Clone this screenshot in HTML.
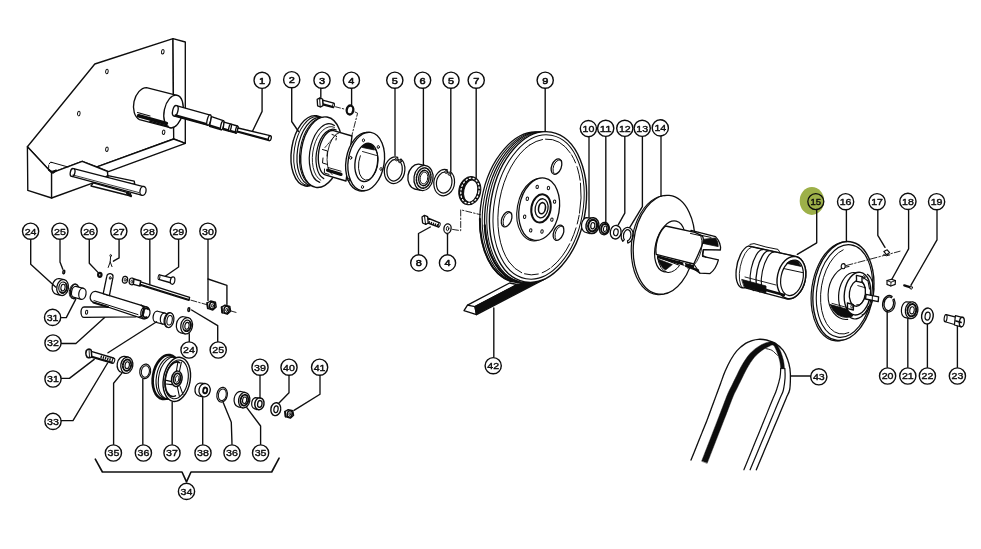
<!DOCTYPE html>
<html><head><meta charset="utf-8"><style>
html,body{margin:0;padding:0;background:#fff;}
svg{display:block}
.t{font-family:"Liberation Sans",sans-serif;fill:#111;}
</style></head><body>
<svg width="981" height="549" viewBox="0 0 981 549" stroke-linecap="round" stroke-linejoin="round" opacity="0.999">
<defs><filter id="soft" x="0" y="0" width="981" height="549" filterUnits="userSpaceOnUse"><feGaussianBlur stdDeviation="0.38"/></filter></defs>
<rect width="981" height="549" fill="#fff"/>
<g filter="url(#soft)">
<path d="M27.4 146.8 L94.8 64 L173 38.7 L173.7 139 L97 166.8 L82.2 161.3 L51.6 172.8 Z" fill="#fff" stroke="#0c0c0c" stroke-width="1.35" />
<path d="M173 38.7 L185.3 42 L185.3 143.3 L173.7 139 Z" fill="#fff" stroke="#0c0c0c" stroke-width="1.35" />
<path d="M173.7 139 L185.3 143.3 L108.5 171.6 L97 166.8 Z" fill="#fff" stroke="#0c0c0c" stroke-width="1.35" />
<path d="M27.4 146.8 L27.8 190.4 L51.6 198 L51.6 172.8 Z" fill="#fff" stroke="#0c0c0c" stroke-width="1.35" />
<path d="M51.6 172.8 L82.2 161.3 L107.3 171.3 L107.9 175.6 L93.2 182.9 L51.6 198 Z" fill="#fff" stroke="#0c0c0c" stroke-width="1.35" />
<path d="M51 162.2 L68 167 M48.6 165.5 Q47.6 169 50.5 171.6 M49 164 Q50 161.6 52 162.4 M50.5 171.6 L56 170.2" fill="none" stroke="#0c0c0c" stroke-width="1" />
<path d="M49 170 L53 172.8 L56 170.5" fill="none" stroke="#0c0c0c" stroke-width="2" />
<path d="M107.9 175.6 L134.2 181.1 L134.8 184.3 L108 179 Z" fill="#fff" stroke="#0c0c0c" stroke-width="1.35" />
<path d="M93.2 182.9 L130.5 193.3 L130.7 196 L91 186 Z" fill="#fff" stroke="#0c0c0c" stroke-width="1.35" />
<path d="M127 193 L131 196" fill="none" stroke="#0c0c0c" stroke-width="2.2" />
<path d="M73.6 168.6 L143.4 186.6 L141.5 195.2 L72 176.3 Z" fill="#fff" stroke="#0c0c0c" stroke-width="1.35" />
<ellipse cx="72.6" cy="172.5" rx="2.3" ry="4" transform="rotate(12 72.6 172.5)" fill="#fff" stroke="#0c0c0c" stroke-width="1.35" />
<ellipse cx="143" cy="190.9" rx="3" ry="4.5" transform="rotate(12 143 190.9)" fill="#fff" stroke="#0c0c0c" stroke-width="1.35" />
<path d="M73 175 L139 192.6" fill="none" stroke="#0c0c0c" stroke-width="0.8" />
<ellipse cx="162.8" cy="51.7" rx="1.3" ry="2.3" transform="rotate(8 162.8 51.7)" fill="none" stroke="#0c0c0c" stroke-width="1" />
<ellipse cx="106.9" cy="71.5" rx="1.3" ry="2.3" transform="rotate(8 106.9 71.5)" fill="none" stroke="#0c0c0c" stroke-width="1" />
<ellipse cx="78.8" cy="113.6" rx="1.3" ry="2.3" transform="rotate(8 78.8 113.6)" fill="none" stroke="#0c0c0c" stroke-width="1" />
<ellipse cx="163.6" cy="132.2" rx="1.3" ry="2.3" transform="rotate(8 163.6 132.2)" fill="none" stroke="#0c0c0c" stroke-width="1" />
<ellipse cx="106.9" cy="149.2" rx="1.3" ry="2.3" transform="rotate(8 106.9 149.2)" fill="none" stroke="#0c0c0c" stroke-width="1" />
<path d="M146.5 87.6 L176 95.2 A9.5 16.6 12 0 1 171 127.8 L139.5 119.6 A11 16.6 12 0 1 146.5 87.6 Z" fill="#fff" stroke="#0c0c0c" stroke-width="1.35" />
<ellipse cx="173.5" cy="111.5" rx="9.3" ry="16.6" transform="rotate(12 173.5 111.5)" fill="#fff" stroke="#0c0c0c" stroke-width="1.35" />
<path d="M138.6 115.8 L166.4 123.4" fill="none" stroke="#0c0c0c" stroke-width="3.6" />
<path d="M137.5 112.5 L150 116" fill="none" stroke="#0c0c0c" stroke-width="1.2" />
<path d="M150 121.3 L168 126.3" fill="none" stroke="#0c0c0c" stroke-width="1.6" />
<path d="M177.2 105.9 L210.3 115.1 L207.5 125.2 L174.4 116 Z" fill="#fff" stroke="#0c0c0c" stroke-width="1.35" />
<ellipse cx="175.3" cy="110.8" rx="2.6" ry="5.4" transform="rotate(14 175.3 110.8)" fill="#fff" stroke="#0c0c0c" stroke-width="1.35" />
<path d="M175.5 115.3 L207.5 124.2" fill="none" stroke="#0c0c0c" stroke-width="2" />
<ellipse cx="209" cy="120.1" rx="1.8" ry="5.3" transform="rotate(14 209 120.1)" fill="#fff" stroke="#0c0c0c" stroke-width="1.35" />
<path d="M211.5 116.6 L223.2 120.6 L221.3 129.8 L209.5 126.3 Z" fill="#fff" stroke="#0c0c0c" stroke-width="1.35" />
<path d="M210 125.4 L221.3 128.8" fill="none" stroke="#0c0c0c" stroke-width="1.8" />
<ellipse cx="222.3" cy="125.2" rx="1.4" ry="4.6" transform="rotate(14 222.3 125.2)" fill="#fff" stroke="#0c0c0c" stroke-width="1.35" />
<path d="M224.1 122.2 L237.4 126 L236.1 133.2 L223 129.5 Z" fill="#fff" stroke="#0c0c0c" stroke-width="1.35" />
<path d="M223.4 128.7 L236 132.3" fill="none" stroke="#0c0c0c" stroke-width="1.8" />
<ellipse cx="230" cy="127.6" rx="1.1" ry="3.6" transform="rotate(14 230 127.6)" fill="#fff" stroke="#0c0c0c" stroke-width="1.35" />
<ellipse cx="236.8" cy="129.6" rx="1.1" ry="3.6" transform="rotate(14 236.8 129.6)" fill="#fff" stroke="#0c0c0c" stroke-width="1.35" />
<path d="M238 128 L270.1 135.7 L269.2 140.6 L237 131.9 Z" fill="#fff" stroke="#0c0c0c" stroke-width="1.35" />
<path d="M237.3 131.3 L269 139.8" fill="none" stroke="#0c0c0c" stroke-width="1.6" />
<ellipse cx="269.8" cy="138.2" rx="1.4" ry="2.5" transform="rotate(14 269.8 138.2)" fill="#fff" stroke="#0c0c0c" stroke-width="1.35" />
<path d="M262.1 88.4 L262.1 111.4 L252.6 131" fill="none" stroke="#0c0c0c" stroke-width="1.35" />
<circle cx="262.1" cy="80.30000000000001" r="8.1" fill="#fff" stroke="#0c0c0c" stroke-width="1.4"/>
<text x="262.1" y="83.70000000000002" text-anchor="middle" font-size="9.6" textLength="6.1" lengthAdjust="spacingAndGlyphs" stroke="#0c0c0c" stroke-width="0.55" class="t">1</text>
<ellipse cx="311" cy="150.9" rx="19.5" ry="35.6" transform="rotate(9 311 150.9)" fill="#fff" stroke="#0c0c0c" stroke-width="1.4" />
<ellipse cx="313.1" cy="151.1" rx="18.8" ry="34.8" transform="rotate(9 313.1 151.1)" fill="none" stroke="#0c0c0c" stroke-width="1.0" />
<ellipse cx="315.9" cy="151.4" rx="18.4" ry="34.4" transform="rotate(9 315.9 151.4)" fill="#fff" stroke="#0c0c0c" stroke-width="1.2" />
<ellipse cx="318" cy="151.7" rx="18" ry="34" transform="rotate(9 318 151.7)" fill="none" stroke="#0c0c0c" stroke-width="1.0" />
<ellipse cx="321.4" cy="152.2" rx="20.2" ry="35.6" transform="rotate(9 321.4 152.2)" fill="#fff" stroke="#0c0c0c" stroke-width="1.4" />
<path d="M319.78 182.4 A16 29.8 9 1 1 334.39 125.52" fill="none" stroke="#0c0c0c" stroke-width="1.2" />
<path d="M320.78 180.24 A15 27.6 9 0 1 334.42 127.36" fill="none" stroke="#0c0c0c" stroke-width="0.9" />
<path d="M323.75 178.64 A13.6 25.4 9 0 1 336.25 129.96" fill="none" stroke="#0c0c0c" stroke-width="1.2" />
<path d="M333.5 130.6 L352 136 L346 181 L326 175.2 A11 22.5 9 0 1 333.5 130.6 Z" fill="#fff" stroke="#0c0c0c" stroke-width="1.35" />
<path d="M332.06 174.65 A9.5 21.5 9 0 1 339.02 132.76" fill="none" stroke="#0c0c0c" stroke-width="0.9" />
<path d="M322.5 149.5 L327.5 151 L327 156" fill="none" stroke="#0c0c0c" stroke-width="1" />
<path d="M323 158 L322.5 163 L327 164.3" fill="none" stroke="#0c0c0c" stroke-width="1" />
<path d="M324.5 169 L324.3 173 L329 174.4" fill="none" stroke="#0c0c0c" stroke-width="1" />
<path d="M332 134.5 L336.5 136 L336 140" fill="none" stroke="#0c0c0c" stroke-width="1" stroke-dasharray="2 1.5"/>
<path d="M325 147.5 L334 137" fill="none" stroke="#0c0c0c" stroke-width="0.9" stroke-dasharray="2.5 1.5"/>
<path d="M327.6 170.2 L341 174.4" fill="none" stroke="#0c0c0c" stroke-width="3.2" />
<path d="M328 167.5 L341 171.2" fill="none" stroke="#0c0c0c" stroke-width="0.9" />
<ellipse cx="364" cy="161.7" rx="18" ry="29.5" transform="rotate(9 364 161.7)" fill="#fff" stroke="#0c0c0c" stroke-width="1.35" />
<ellipse cx="366.2" cy="161.5" rx="18" ry="29.5" transform="rotate(9 366.2 161.5)" fill="#fff" stroke="#0c0c0c" stroke-width="1.35" />
<ellipse cx="366.3" cy="162.4" rx="11.2" ry="19.3" transform="rotate(9 366.3 162.4)" fill="#fff" stroke="#0c0c0c" stroke-width="1.35" />
<path d="M362 146.5 Q368 141 373.5 146 L374.5 150 L362.5 147.5 Z" fill="#0c0c0c" stroke="#0c0c0c" stroke-width="0.8" />
<path d="M375.38 148.95 A9.6 17.3 9 1 1 360.32 155.74" fill="none" stroke="#0c0c0c" stroke-width="1.0" />
<path d="M362.5 151.5 L376.5 155.5" fill="none" stroke="#0c0c0c" stroke-width="0.9" />
<ellipse cx="363.5" cy="140.3" rx="1.1" ry="1.5" transform="rotate(9 363.5 140.3)" fill="none" stroke="#0c0c0c" stroke-width="0.9" />
<ellipse cx="378.3" cy="147" rx="1.1" ry="1.5" transform="rotate(9 378.3 147)" fill="none" stroke="#0c0c0c" stroke-width="0.9" />
<ellipse cx="350.7" cy="157.8" rx="1.1" ry="1.5" transform="rotate(9 350.7 157.8)" fill="none" stroke="#0c0c0c" stroke-width="0.9" />
<ellipse cx="348.8" cy="179.6" rx="1.1" ry="1.5" transform="rotate(9 348.8 179.6)" fill="none" stroke="#0c0c0c" stroke-width="0.9" />
<ellipse cx="362.5" cy="187" rx="1.1" ry="1.5" transform="rotate(9 362.5 187)" fill="none" stroke="#0c0c0c" stroke-width="0.9" />
<ellipse cx="381" cy="169" rx="1.1" ry="1.5" transform="rotate(9 381 169)" fill="none" stroke="#0c0c0c" stroke-width="0.9" />
<path d="M291.7 87.4 L291.7 121.5 L298.5 131.5" fill="none" stroke="#0c0c0c" stroke-width="1.35" />
<circle cx="291.7" cy="79.7" r="8.1" fill="#fff" stroke="#0c0c0c" stroke-width="1.4"/>
<text x="291.7" y="83.10000000000001" text-anchor="middle" font-size="9.6" textLength="6.1" lengthAdjust="spacingAndGlyphs" stroke="#0c0c0c" stroke-width="0.55" class="t">2</text>
<path d="M322.6 100.2 L333.8 103.2 L333.4 107.6 L322.8 104.8 Z" fill="#fff" stroke="#0c0c0c" stroke-width="1.35" />
<ellipse cx="333.6" cy="105.4" rx="0.9" ry="2.1" transform="rotate(9 333.6 105.4)" fill="#fff" stroke="#0c0c0c" stroke-width="1.0" />
<path d="M323 104 L333 106.8" fill="none" stroke="#0c0c0c" stroke-width="1.6" />
<path d="M317.2 99.4 L319.6 98 L322.6 99 L323 105.6 L320.6 107 L317.6 105.8 Z" fill="#fff" stroke="#0c0c0c" stroke-width="1.3" />
<path d="M319.6 98 L320.2 107" fill="none" stroke="#0c0c0c" stroke-width="1.0" />
<ellipse cx="350" cy="110" rx="3.3" ry="4.5" transform="rotate(9 350 110)" fill="#fff" stroke="#0c0c0c" stroke-width="2.3" />
<path d="M335.5 106.8 L345.3 109.3" fill="none" stroke="#0c0c0c" stroke-width="0.9" stroke-dasharray="5 2 1.5 2"/>
<path d="M355 112 L357.6 113.2 L351.6 136.5" fill="none" stroke="#0c0c0c" stroke-width="0.9" stroke-dasharray="6 2 1.5 2"/>
<path d="M320.8 88.2 L320.8 98.8" fill="none" stroke="#0c0c0c" stroke-width="1.35" />
<circle cx="322" cy="80.2" r="8.1" fill="#fff" stroke="#0c0c0c" stroke-width="1.4"/>
<text x="322" y="83.60000000000001" text-anchor="middle" font-size="9.6" textLength="6.1" lengthAdjust="spacingAndGlyphs" stroke="#0c0c0c" stroke-width="0.55" class="t">3</text>
<path d="M351.6 88.2 L351.6 105" fill="none" stroke="#0c0c0c" stroke-width="1.35" />
<circle cx="351.4" cy="80.2" r="8.1" fill="#fff" stroke="#0c0c0c" stroke-width="1.4"/>
<text x="351.4" y="83.60000000000001" text-anchor="middle" font-size="9.6" textLength="6.1" lengthAdjust="spacingAndGlyphs" stroke="#0c0c0c" stroke-width="0.55" class="t">4</text>
<path d="M400.9 159.0 A10.2 13.4 9 1 1 397.74 157.2 L397.06 159.72 A7.6 10.8 9 1 0 399.41 161.13 Z" fill="#fff" stroke="#0c0c0c" stroke-width="1.2" />
<ellipse cx="396.73" cy="159.36" rx="1.5" ry="1.5" transform="rotate(0 396.73 159.36)" fill="#fff" stroke="#0c0c0c" stroke-width="1.0" />
<ellipse cx="396.73" cy="159.36" rx="0.4" ry="0.4" transform="rotate(0 396.73 159.36)" fill="#0c0c0c" stroke="#0c0c0c" stroke-width="0.5" />
<ellipse cx="399.88" cy="161.24" rx="1.5" ry="1.5" transform="rotate(0 399.88 161.24)" fill="#fff" stroke="#0c0c0c" stroke-width="1.0" />
<ellipse cx="399.88" cy="161.24" rx="0.4" ry="0.4" transform="rotate(0 399.88 161.24)" fill="#0c0c0c" stroke="#0c0c0c" stroke-width="0.5" />
<path d="M395 87.8 L395 155.5" fill="none" stroke="#0c0c0c" stroke-width="1.35" />
<circle cx="394.8" cy="80.2" r="8.1" fill="#fff" stroke="#0c0c0c" stroke-width="1.4"/>
<text x="394.8" y="83.60000000000001" text-anchor="middle" font-size="9.6" textLength="6.1" lengthAdjust="spacingAndGlyphs" stroke="#0c0c0c" stroke-width="0.55" class="t">5</text>
<path d="M425.5 165.6 L418.7 164.2 A9.5 12.6 9 0 0 414.7 189 L421.5 190.4 Z" fill="#fff" stroke="#0c0c0c" stroke-width="1.35" />
<ellipse cx="423.5" cy="178" rx="9.5" ry="12.6" transform="rotate(9 423.5 178)" fill="#fff" stroke="#0c0c0c" stroke-width="1.3" />
<ellipse cx="423.7" cy="178" rx="7.2" ry="10.2" transform="rotate(9 423.7 178)" fill="#fff" stroke="#0c0c0c" stroke-width="1.6" stroke-dasharray="1.6 1.3"/>
<ellipse cx="423.9" cy="178" rx="5.2" ry="7.8" transform="rotate(9 423.9 178)" fill="#fff" stroke="#0c0c0c" stroke-width="1.3" />
<ellipse cx="424" cy="178" rx="3.8" ry="6" transform="rotate(9 424 178)" fill="#fff" stroke="#0c0c0c" stroke-width="0.9" />
<path d="M423.4 87.8 L423.4 165.3" fill="none" stroke="#0c0c0c" stroke-width="1.35" />
<circle cx="422.6" cy="80.2" r="8.1" fill="#fff" stroke="#0c0c0c" stroke-width="1.4"/>
<text x="422.6" y="83.60000000000001" text-anchor="middle" font-size="9.6" textLength="6.1" lengthAdjust="spacingAndGlyphs" stroke="#0c0c0c" stroke-width="0.55" class="t">6</text>
<path d="M450.52 171.59 A10.3 13.2 9 1 1 447.32 169.8 L446.64 172.31 A7.700000000000001 10.6 9 1 0 449.02 173.72 Z" fill="#fff" stroke="#0c0c0c" stroke-width="1.2" />
<ellipse cx="446.31" cy="171.95" rx="1.5" ry="1.5" transform="rotate(0 446.31 171.95)" fill="#fff" stroke="#0c0c0c" stroke-width="1.0" />
<ellipse cx="446.31" cy="171.95" rx="0.4" ry="0.4" transform="rotate(0 446.31 171.95)" fill="#0c0c0c" stroke="#0c0c0c" stroke-width="0.5" />
<ellipse cx="449.5" cy="173.82" rx="1.5" ry="1.5" transform="rotate(0 449.5 173.82)" fill="#fff" stroke="#0c0c0c" stroke-width="1.0" />
<ellipse cx="449.5" cy="173.82" rx="0.4" ry="0.4" transform="rotate(0 449.5 173.82)" fill="#0c0c0c" stroke="#0c0c0c" stroke-width="0.5" />
<path d="M450.8 87.8 L450.8 171" fill="none" stroke="#0c0c0c" stroke-width="1.35" />
<circle cx="451" cy="80.2" r="8.1" fill="#fff" stroke="#0c0c0c" stroke-width="1.4"/>
<text x="451" y="83.60000000000001" text-anchor="middle" font-size="9.6" textLength="6.1" lengthAdjust="spacingAndGlyphs" stroke="#0c0c0c" stroke-width="0.55" class="t">5</text>
<ellipse cx="469.8" cy="190.7" rx="10.9" ry="14.2" transform="rotate(12 469.8 190.7)" fill="#0c0c0c" stroke="#0c0c0c" stroke-width="1.0" />
<ellipse cx="470.7" cy="191.1" rx="6.9" ry="11.2" transform="rotate(12 470.7 191.1)" fill="#fff" stroke="#0c0c0c" stroke-width="1.0" />
<ellipse cx="470" cy="190.8" rx="9" ry="12.8" transform="rotate(12 470 190.8)" fill="none" stroke="#fff" stroke-width="1.3" stroke-dasharray="1.3 2.4"/>
<path d="M476.2 87.8 L476.2 177.5" fill="none" stroke="#0c0c0c" stroke-width="1.35" />
<circle cx="476.2" cy="80.2" r="8.1" fill="#fff" stroke="#0c0c0c" stroke-width="1.4"/>
<text x="476.2" y="83.60000000000001" text-anchor="middle" font-size="9.6" textLength="6.1" lengthAdjust="spacingAndGlyphs" stroke="#0c0c0c" stroke-width="0.55" class="t">7</text>
<path d="M464 310.6 L467.5 305.1 L509.6 283 L517.1 284.5 L475 306.6 L476.5 314.6 Z" fill="#fff" stroke="#0c0c0c" stroke-width="1.35" />
<path d="M475 306.6 L517.1 284.5 L545 279 L476.5 314.6 Z" fill="#0c0c0c" stroke="#0c0c0c" stroke-width="1.35" />
<path d="M467.5 305.1 L475 306.6" fill="none" stroke="#0c0c0c" stroke-width="1.1" />
<ellipse cx="528" cy="207.3" rx="47" ry="76" transform="rotate(10 528 207.3)" fill="#fff" stroke="#0c0c0c" stroke-width="1.3" />
<ellipse cx="530.4" cy="207.3" rx="47" ry="76" transform="rotate(10 530.4 207.3)" fill="#fff" stroke="#0c0c0c" stroke-width="1.0" />
<ellipse cx="532.8" cy="207.3" rx="47" ry="76" transform="rotate(10 532.8 207.3)" fill="#fff" stroke="#0c0c0c" stroke-width="1.3" />
<ellipse cx="535" cy="207.3" rx="47" ry="76" transform="rotate(10 535 207.3)" fill="#fff" stroke="#0c0c0c" stroke-width="1.0" />
<path d="M510.82 281.15 A47 76 10 0 1 479.88 218.79" fill="none" stroke="#0c0c0c" stroke-width="2.0" />
<path d="M518.0 281.81 A47 76 10 0 1 484.79 225.23" fill="none" stroke="#0c0c0c" stroke-width="2.2" />
<ellipse cx="538" cy="207" rx="47.4" ry="76" transform="rotate(10 538 207)" fill="#fff" stroke="#0c0c0c" stroke-width="1.4" />
<ellipse cx="538.6" cy="207" rx="44.4" ry="72.8" transform="rotate(10 538.6 207)" fill="none" stroke="#0c0c0c" stroke-width="1.0" />
<path d="M529.72 144.97 A40.6 68.6 10 1 1 509.09 261.98" fill="none" stroke="#0c0c0c" stroke-width="1.0" stroke-dasharray="14 3 30 2 9 4"/>
<path d="M509.09 261.98 A40.6 68.6 10 0 1 529.72 144.97" fill="none" stroke="#0c0c0c" stroke-width="1.0" />
<path d="M538.8 239.94 A20 31.5 10 1 1 549.08 181.64" fill="none" stroke="#0c0c0c" stroke-width="1.1" />
<ellipse cx="539.2" cy="209.2" rx="20" ry="31.5" transform="rotate(10 539.2 209.2)" fill="#fff" stroke="#0c0c0c" stroke-width="1.3" />
<ellipse cx="541" cy="208.4" rx="9.6" ry="14.2" transform="rotate(10 541 208.4)" fill="#fff" stroke="#0c0c0c" stroke-width="2.0" />
<ellipse cx="541.6" cy="208.3" rx="6.4" ry="9.6" transform="rotate(10 541.6 208.3)" fill="#fff" stroke="#0c0c0c" stroke-width="1.3" />
<ellipse cx="542" cy="208.2" rx="3.4" ry="5.6" transform="rotate(10 542 208.2)" fill="#fff" stroke="#0c0c0c" stroke-width="1.6" />
<ellipse cx="551.88" cy="219.63" rx="1.2" ry="1.7" transform="rotate(10 551.88 219.63)" fill="none" stroke="#0c0c0c" stroke-width="1.0" />
<ellipse cx="542.01" cy="231.53" rx="1.2" ry="1.7" transform="rotate(10 542.01 231.53)" fill="none" stroke="#0c0c0c" stroke-width="1.0" />
<ellipse cx="530.73" cy="230.35" rx="1.2" ry="1.7" transform="rotate(10 530.73 230.35)" fill="none" stroke="#0c0c0c" stroke-width="1.0" />
<ellipse cx="524.64" cy="216.78" rx="1.2" ry="1.7" transform="rotate(10 524.64 216.78)" fill="none" stroke="#0c0c0c" stroke-width="1.0" />
<ellipse cx="527.32" cy="198.77" rx="1.2" ry="1.7" transform="rotate(10 527.32 198.77)" fill="none" stroke="#0c0c0c" stroke-width="1.0" />
<ellipse cx="537.19" cy="186.87" rx="1.2" ry="1.7" transform="rotate(10 537.19 186.87)" fill="none" stroke="#0c0c0c" stroke-width="1.0" />
<ellipse cx="548.47" cy="188.05" rx="1.2" ry="1.7" transform="rotate(10 548.47 188.05)" fill="none" stroke="#0c0c0c" stroke-width="1.0" />
<ellipse cx="554.56" cy="201.62" rx="1.2" ry="1.7" transform="rotate(10 554.56 201.62)" fill="none" stroke="#0c0c0c" stroke-width="1.0" />
<ellipse cx="556.5" cy="166.6" rx="4.8" ry="8" transform="rotate(22 556.5 166.6)" fill="#fff" stroke="#0c0c0c" stroke-width="1.3" />
<path d="M553.83 173.06 A4.4 7.6 22 0 1 561.97 160.94" fill="none" stroke="#0c0c0c" stroke-width="1.0" />
<ellipse cx="506.6" cy="219.2" rx="4.8" ry="8" transform="rotate(22 506.6 219.2)" fill="#fff" stroke="#0c0c0c" stroke-width="1.3" />
<path d="M503.93 225.66 A4.4 7.6 22 0 1 512.07 213.54" fill="none" stroke="#0c0c0c" stroke-width="1.0" />
<ellipse cx="558.5" cy="232.8" rx="4.8" ry="8" transform="rotate(22 558.5 232.8)" fill="#fff" stroke="#0c0c0c" stroke-width="1.3" />
<path d="M555.83 239.26 A4.4 7.6 22 0 1 563.97 227.14" fill="none" stroke="#0c0c0c" stroke-width="1.0" />
<path d="M545.2 87.8 L545.2 131.5" fill="none" stroke="#0c0c0c" stroke-width="1.35" />
<circle cx="545.2" cy="80.2" r="8.1" fill="#fff" stroke="#0c0c0c" stroke-width="1.4"/>
<text x="545.2" y="83.60000000000001" text-anchor="middle" font-size="9.6" textLength="6.1" lengthAdjust="spacingAndGlyphs" stroke="#0c0c0c" stroke-width="0.55" class="t">9</text>
<path d="M493.8 308 L493.8 357" fill="none" stroke="#0c0c0c" stroke-width="1.35" />
<circle cx="493.2" cy="365.7" r="8.1" fill="#fff" stroke="#0c0c0c" stroke-width="1.4"/>
<text x="493.2" y="369.05" text-anchor="middle" font-size="9.3" textLength="11.8" lengthAdjust="spacingAndGlyphs" stroke="#0c0c0c" stroke-width="0.4" class="t">42</text>
<path d="M427.6 218 L439.6 222.8 L438.6 227 L426.8 222.6 Z" fill="#fff" stroke="#0c0c0c" stroke-width="1.35" />
<path d="M428.6 222.2 L438.4 225.8" fill="none" stroke="#0c0c0c" stroke-width="2.4" stroke-dasharray="1.3 0.9" stroke-linecap="butt"/>
<ellipse cx="439.2" cy="224.9" rx="0.9" ry="2.1" transform="rotate(17 439.2 224.9)" fill="#fff" stroke="#0c0c0c" stroke-width="1.0" />
<path d="M422 217 L424.4 215.4 L427.6 216.6 L428.2 223 L425.8 224.4 L422.6 223 Z" fill="#fff" stroke="#0c0c0c" stroke-width="1.3" />
<path d="M424.4 215.4 L425.6 224.4" fill="none" stroke="#0c0c0c" stroke-width="1.0" />
<ellipse cx="447.5" cy="228.6" rx="3.6" ry="4.8" transform="rotate(9 447.5 228.6)" fill="#fff" stroke="#0c0c0c" stroke-width="1.3" />
<ellipse cx="447.6" cy="228.6" rx="1.2" ry="2.2" transform="rotate(9 447.6 228.6)" fill="#fff" stroke="#0c0c0c" stroke-width="0.9" />
<path d="M452.5 229.4 L460.7 230.7 L460.7 209.8 L480.5 214.7" fill="none" stroke="#0c0c0c" stroke-width="0.9" stroke-dasharray="6 2 1.5 2"/>
<path d="M418.5 254.3 L418.5 233.5 L430.3 227" fill="none" stroke="#0c0c0c" stroke-width="1.35" />
<circle cx="418.8" cy="262.9" r="8.1" fill="#fff" stroke="#0c0c0c" stroke-width="1.4"/>
<text x="418.8" y="266.29999999999995" text-anchor="middle" font-size="9.6" textLength="6.1" lengthAdjust="spacingAndGlyphs" stroke="#0c0c0c" stroke-width="0.55" class="t">8</text>
<path d="M447.5 234.3 L447.5 254.3" fill="none" stroke="#0c0c0c" stroke-width="1.35" />
<circle cx="447.5" cy="262.9" r="8.1" fill="#fff" stroke="#0c0c0c" stroke-width="1.4"/>
<text x="447.5" y="266.29999999999995" text-anchor="middle" font-size="9.6" textLength="6.1" lengthAdjust="spacingAndGlyphs" stroke="#0c0c0c" stroke-width="0.55" class="t">4</text>
<path d="M586 217.6 L592 218.2 L590 233.6 L584.6 232 A6.5 8 9 0 1 586 217.6 Z" fill="#fff" stroke="#0c0c0c" stroke-width="1.2" />
<ellipse cx="592.4" cy="225.6" rx="6.4" ry="8" transform="rotate(9 592.4 225.6)" fill="#fff" stroke="#0c0c0c" stroke-width="1.5" />
<ellipse cx="592.6" cy="225.6" rx="4.4" ry="5.8" transform="rotate(9 592.6 225.6)" fill="#fff" stroke="#0c0c0c" stroke-width="2.2" stroke-dasharray="1.6 1.2"/>
<ellipse cx="592.8" cy="225.7" rx="2" ry="3.2" transform="rotate(9 592.8 225.7)" fill="#fff" stroke="#0c0c0c" stroke-width="1.2" />
<path d="M589 136 L589 217" fill="none" stroke="#0c0c0c" stroke-width="1.35" />
<circle cx="588.4" cy="128.6" r="8.1" fill="#fff" stroke="#0c0c0c" stroke-width="1.4"/>
<text x="588.4" y="131.95" text-anchor="middle" font-size="9.3" textLength="11.8" lengthAdjust="spacingAndGlyphs" stroke="#0c0c0c" stroke-width="0.4" class="t">10</text>
<ellipse cx="604.3" cy="228.6" rx="5" ry="6.2" transform="rotate(9 604.3 228.6)" fill="#fff" stroke="#0c0c0c" stroke-width="1.3" />
<ellipse cx="604.8" cy="228.7" rx="3.6" ry="4.8" transform="rotate(9 604.8 228.7)" fill="#fff" stroke="#0c0c0c" stroke-width="2.0" />
<ellipse cx="605.1" cy="228.8" rx="1.6" ry="2.8" transform="rotate(9 605.1 228.8)" fill="#fff" stroke="#0c0c0c" stroke-width="1.0" />
<path d="M605.8 136 L605.8 222.4" fill="none" stroke="#0c0c0c" stroke-width="1.35" />
<circle cx="605.7" cy="128.3" r="8.1" fill="#fff" stroke="#0c0c0c" stroke-width="1.4"/>
<text x="605.7" y="131.65" text-anchor="middle" font-size="9.3" textLength="11.8" lengthAdjust="spacingAndGlyphs" stroke="#0c0c0c" stroke-width="0.4" class="t">11</text>
<ellipse cx="615.7" cy="232.2" rx="5.4" ry="6.8" transform="rotate(9 615.7 232.2)" fill="#fff" stroke="#0c0c0c" stroke-width="1.3" />
<ellipse cx="615.9" cy="232.3" rx="2.3" ry="3.5" transform="rotate(9 615.9 232.3)" fill="#fff" stroke="#0c0c0c" stroke-width="1.1" />
<path d="M624.8 136 L624.8 213.1 L618.2 224.8" fill="none" stroke="#0c0c0c" stroke-width="1.35" />
<circle cx="624.8" cy="128.3" r="8.1" fill="#fff" stroke="#0c0c0c" stroke-width="1.4"/>
<text x="624.8" y="131.65" text-anchor="middle" font-size="9.3" textLength="11.8" lengthAdjust="spacingAndGlyphs" stroke="#0c0c0c" stroke-width="0.4" class="t">12</text>
<path d="M622.78 241.33 A6 8 9 1 1 627.84 243.2 L627.48 240.93 A3.7 5.7 9 1 0 624.37 239.68 Z" fill="#fff" stroke="#0c0c0c" stroke-width="1.2" />
<path d="M642.4 136 L642.4 206.6 L629.8 227.3" fill="none" stroke="#0c0c0c" stroke-width="1.35" />
<circle cx="642.2" cy="128.3" r="8.1" fill="#fff" stroke="#0c0c0c" stroke-width="1.4"/>
<text x="642.2" y="131.65" text-anchor="middle" font-size="9.3" textLength="11.8" lengthAdjust="spacingAndGlyphs" stroke="#0c0c0c" stroke-width="0.4" class="t">13</text>
<path d="M672.68 289.51 A30.5 49.6 6 1 1 681.66 204.07" fill="none" stroke="#0c0c0c" stroke-width="1.2" />
<ellipse cx="664" cy="244.8" rx="30.5" ry="49.6" transform="rotate(6 664 244.8)" fill="#fff" stroke="#0c0c0c" stroke-width="1.3" />
<ellipse cx="670" cy="246.4" rx="14.5" ry="26" transform="rotate(14 670 246.4)" fill="#fff" stroke="#0c0c0c" stroke-width="1.2" />
<path d="M657.4 256 Q659 270.5 668 272.6 Q675 272 679.6 265.4 L662 258.6 Z" fill="#fff" stroke="#0c0c0c" stroke-width="1.0" />
<path d="M657.6 258 Q660 267 665.6 270 L672.4 264.6 L658 259 Z" fill="#0c0c0c" stroke="#0c0c0c" stroke-width="0.6" />
<path d="M691 230.4 L715.5 236.6 Q721.4 243 720.4 250 L703.4 249.6 L702.6 256.4 L718.4 259.8 Q716 269 710 273.6 L700 273.2 L690 266 Z" fill="#fff" stroke="#0c0c0c" stroke-width="1.3" />
<path d="M702.6 239.4 L715.4 238 Q718.6 242 718.2 246.6 L703 243.4 Z" fill="#0c0c0c" stroke="#0c0c0c" stroke-width="0.8" />
<path d="M692 233.4 L711 237.4" fill="none" stroke="#0c0c0c" stroke-width="1.0" />
<path d="M703.4 249.6 L702.4 255.2 L706 257.2" fill="none" stroke="#0c0c0c" stroke-width="1.2" />
<path d="M665.6 226 L695 232.4 L702.6 236.2 Q704.4 240 701.6 246.4 Q698 255 693.8 264 L656.2 254.4 A11.5 21 14 0 1 665.6 226 Z" fill="#fff" stroke="#0c0c0c" stroke-width="1.35" />
<path d="M690.4 233.4 L702.6 236.2" fill="none" stroke="#0c0c0c" stroke-width="1.0" />
<path d="M700.84 236.08 A10.6 19.6 14 0 1 687.72 268.17" fill="none" stroke="#0c0c0c" stroke-width="0.9" />
<path d="M657.4 256.6 L694 267" fill="none" stroke="#0c0c0c" stroke-width="3.0" stroke-linecap="butt"/>
<path d="M686 265.8 L698 270.4" fill="none" stroke="#0c0c0c" stroke-width="2.4" />
<path d="M693.8 264 L700 273.2" fill="none" stroke="#0c0c0c" stroke-width="1.1" />
<path d="M684 263.4 L684.6 264.8" fill="none" stroke="#fff" stroke-width="1.6" />
<path d="M661 136 L661 196.2" fill="none" stroke="#0c0c0c" stroke-width="1.35" />
<circle cx="660.3" cy="127.9" r="8.1" fill="#fff" stroke="#0c0c0c" stroke-width="1.4"/>
<text x="660.3" y="131.25" text-anchor="middle" font-size="9.3" textLength="11.8" lengthAdjust="spacingAndGlyphs" stroke="#0c0c0c" stroke-width="0.4" class="t">14</text>
<ellipse cx="811.9" cy="200.9" rx="12.2" ry="14" fill="#9db048"/>
<path d="M748.4 246 L796 256.4 A14 21.4 12 0 1 786.6 298.8 L744.4 287.6 A9.4 21 12 0 1 748.4 246 Z" fill="#fff" stroke="#0c0c0c" stroke-width="1.3" />
<ellipse cx="791.4" cy="277.6" rx="14" ry="21.4" transform="rotate(12 791.4 277.6)" fill="#fff" stroke="#0c0c0c" stroke-width="1.4" />
<ellipse cx="792" cy="277.8" rx="11" ry="18" transform="rotate(12 792 277.8)" fill="#fff" stroke="#0c0c0c" stroke-width="1.2" />
<path d="M787.5 262.5 Q792 258.8 798 261.6 L801 266.4 L787 263.4 Z" fill="#0c0c0c" stroke="#0c0c0c" stroke-width="0.8" />
<path d="M784 268.6 L802.6 272.6" fill="none" stroke="#0c0c0c" stroke-width="1.0" />
<path d="M753.98 290.67 A7.6 21 12 0 1 762.7 249.62" fill="none" stroke="#0c0c0c" stroke-width="1.1" />
<path d="M759.98 291.97 A7.6 21 12 0 1 768.7 250.92" fill="none" stroke="#0c0c0c" stroke-width="1.3" />
<path d="M765.18 293.17 A7.6 21 12 0 1 773.9 252.12" fill="none" stroke="#0c0c0c" stroke-width="1.1" />
<path d="M742.54 287.84 A8 21 12 0 1 751.14 247.38" fill="none" stroke="#0c0c0c" stroke-width="0.9" />
<path d="M750 244.4 L754 243.6 L766 247 L778 249.4 L780 252.6" fill="none" stroke="#0c0c0c" stroke-width="1.0" />
<path d="M753 247 L793 255.8" fill="none" stroke="#0c0c0c" stroke-width="0.9" />
<path d="M742 279.5 L766 286 L766 292.6 L744.6 287.4 Z" fill="#0c0c0c" stroke="#0c0c0c" stroke-width="0.8" />
<path d="M766 290 L784 295" fill="none" stroke="#0c0c0c" stroke-width="2.4" />
<path d="M745 277 L776 285" fill="none" stroke="#0c0c0c" stroke-width="0.9" />
<path d="M816.7 209.5 L816.7 242.8 L797.3 254.3" fill="none" stroke="#0c0c0c" stroke-width="1.35" />
<circle cx="815.8" cy="201.6" r="8" fill="none" stroke="#0c0c0c" stroke-width="1.3"/>
<text x="815.7" y="204.9" text-anchor="middle" font-size="8.6" textLength="10.6" lengthAdjust="spacingAndGlyphs" stroke="#0c0c0c" stroke-width="0.4" class="t">15</text>
<path d="M850.45 336.2 A30 49.8 8 1 1 862.46 250.78" fill="none" stroke="#0c0c0c" stroke-width="1.2" />
<ellipse cx="843.4" cy="291" rx="30" ry="49.8" transform="rotate(8 843.4 291)" fill="#fff" stroke="#0c0c0c" stroke-width="1.4" />
<ellipse cx="844.4" cy="291" rx="27.6" ry="46.6" transform="rotate(8 844.4 291)" fill="none" stroke="#0c0c0c" stroke-width="1.1" />
<path d="M848.82 332.59 A25 43.2 8 0 1 843.18 249.81" fill="none" stroke="#0c0c0c" stroke-width="1.0" />
<path d="M847.72 319.41 A19.6 26.6 8 1 1 848.96 266.54" fill="none" stroke="#0c0c0c" stroke-width="1.1" />
<path d="M830.3 304.6 L852.8 310.8 L852.4 316.2 C844 319.5 834 316 830.3 304.6 Z" fill="#0c0c0c" stroke="#0c0c0c" stroke-width="0.8" />
<path d="M832 303.4 L851 308.6" fill="none" stroke="#0c0c0c" stroke-width="0.9" />
<path d="M859.38 309.11 A12.8 21.6 8 1 1 860.54 276.37" fill="none" stroke="#0c0c0c" stroke-width="1.2" />
<path d="M867.32 274.24 A13.2 21.8 8 0 1 862.02 315.11" fill="none" stroke="#0c0c0c" stroke-width="1.1" />
<ellipse cx="857.4" cy="293.6" rx="13" ry="21.5" transform="rotate(8 857.4 293.6)" fill="#fff" stroke="#0c0c0c" stroke-width="1.35" />
<ellipse cx="857.4" cy="293.3" rx="8" ry="13" transform="rotate(8 857.4 293.3)" fill="#fff" stroke="#0c0c0c" stroke-width="1.3" />
<path d="M859.94 281.98 A6.6 11.6 8 1 1 856.72 304.86" fill="none" stroke="#0c0c0c" stroke-width="0.9" />
<path d="M857.8 285.6 L865.6 287.8" fill="none" stroke="#0c0c0c" stroke-width="0.9" />
<path d="M856.4 275.4 L862 276.6 L862 282.4 L856.6 281.4 Z" fill="#fff" stroke="#0c0c0c" stroke-width="1.35" />
<path d="M847.4 303 L853.4 304.6 L853.4 310 L847.6 308.6 Z" fill="#fff" stroke="#0c0c0c" stroke-width="1.35" />
<path d="M862 276.6 L868 281 L869.5 289" fill="none" stroke="#0c0c0c" stroke-width="1.1" />
<ellipse cx="863.8" cy="277.2" rx="1.2" ry="1.6" transform="rotate(0 863.8 277.2)" fill="none" stroke="#0c0c0c" stroke-width="0.9" />
<ellipse cx="852" cy="306.6" rx="1.2" ry="1.6" transform="rotate(0 852 306.6)" fill="none" stroke="#0c0c0c" stroke-width="0.9" />
<path d="M868.52 306.22 A13.5 22 8 0 1 847.66 314.93" fill="none" stroke="#0c0c0c" stroke-width="1.1" />
<path d="M866 294.4 L878.6 296.8 L878.2 301.6 L865.6 299 Z" fill="#fff" stroke="#0c0c0c" stroke-width="1.35" />
<path d="M872.4 295.8 L872.2 300.4" fill="none" stroke="#0c0c0c" stroke-width="1" />
<ellipse cx="843.2" cy="266.2" rx="2" ry="2.6" transform="rotate(8 843.2 266.2)" fill="#fff" stroke="#0c0c0c" stroke-width="1.1" />
<path d="M846 265.6 L900 251.2" fill="none" stroke="#0c0c0c" stroke-width="0.9" stroke-dasharray="7 2 1.5 2"/>
<path d="M846.4 209.9 L846.4 241.5" fill="none" stroke="#0c0c0c" stroke-width="1.35" />
<circle cx="845.6" cy="201.70000000000002" r="8.1" fill="#fff" stroke="#0c0c0c" stroke-width="1.4"/>
<text x="845.6" y="205.05" text-anchor="middle" font-size="9.3" textLength="11.8" lengthAdjust="spacingAndGlyphs" stroke="#0c0c0c" stroke-width="0.4" class="t">16</text>
<path d="M883.8 251.4 L887.2 249.8 L889.6 252.6 L886.4 254.6 Z" fill="#fff" stroke="#0c0c0c" stroke-width="1.1" />
<path d="M883.6 254.6 Q886 257 889.8 255" fill="none" stroke="#0c0c0c" stroke-width="1.0" />
<path d="M877.8 210 L877.8 235.3 L885 247.4" fill="none" stroke="#0c0c0c" stroke-width="1.35" />
<circle cx="877.1" cy="201.70000000000002" r="8.1" fill="#fff" stroke="#0c0c0c" stroke-width="1.4"/>
<text x="877.1" y="205.05" text-anchor="middle" font-size="9.3" textLength="11.8" lengthAdjust="spacingAndGlyphs" stroke="#0c0c0c" stroke-width="0.4" class="t">17</text>
<path d="M887 280.6 L891.4 279.2 L895.4 280.6 L895.2 284.4 L890.8 286 L887 284.4 Z" fill="#fff" stroke="#0c0c0c" stroke-width="1.2" />
<path d="M887 280.6 L891 282.2 L895.4 280.6" fill="none" stroke="#0c0c0c" stroke-width="0.9" />
<path d="M891 282.2 L890.8 286" fill="none" stroke="#0c0c0c" stroke-width="0.9" />
<path d="M908.6 209.9 L908.6 248.9 L892 279" fill="none" stroke="#0c0c0c" stroke-width="1.35" />
<circle cx="907.9" cy="201.4" r="8.1" fill="#fff" stroke="#0c0c0c" stroke-width="1.4"/>
<text x="907.9" y="204.75" text-anchor="middle" font-size="9.3" textLength="11.8" lengthAdjust="spacingAndGlyphs" stroke="#0c0c0c" stroke-width="0.4" class="t">18</text>
<path d="M904.2 285.4 L910.6 287.4" fill="none" stroke="#0c0c0c" stroke-width="2.2" />
<ellipse cx="911.2" cy="287.6" rx="1.2" ry="1.6" transform="rotate(0 911.2 287.6)" fill="#fff" stroke="#0c0c0c" stroke-width="1.0" />
<path d="M937 209.9 L937 239.9 L911 285.2" fill="none" stroke="#0c0c0c" stroke-width="1.35" />
<circle cx="936.6" cy="201.70000000000002" r="8.1" fill="#fff" stroke="#0c0c0c" stroke-width="1.4"/>
<text x="936.6" y="205.05" text-anchor="middle" font-size="9.3" textLength="11.8" lengthAdjust="spacingAndGlyphs" stroke="#0c0c0c" stroke-width="0.4" class="t">19</text>
<path d="M894.14 298.94 A6.2 8.3 8 1 1 892.17 296.5 L891.42 297.8 A4.7 6.800000000000001 8 1 0 892.89 299.78 Z" fill="#fff" stroke="#0c0c0c" stroke-width="1.2" />
<path d="M887.2 311.6 L887.2 367.2" fill="none" stroke="#0c0c0c" stroke-width="1.35" />
<circle cx="887.6" cy="376.0" r="8.1" fill="#fff" stroke="#0c0c0c" stroke-width="1.4"/>
<text x="887.6" y="379.35" text-anchor="middle" font-size="9.3" textLength="11.8" lengthAdjust="spacingAndGlyphs" stroke="#0c0c0c" stroke-width="0.4" class="t">20</text>
<path d="M906 301.8 L911 302.2 L909.6 318.6 L904.6 317.4 A6 8.4 8 0 1 906 301.8 Z" fill="#fff" stroke="#0c0c0c" stroke-width="1.2" />
<ellipse cx="911.6" cy="310.2" rx="6.2" ry="8.4" transform="rotate(8 911.6 310.2)" fill="#fff" stroke="#0c0c0c" stroke-width="1.3" />
<ellipse cx="911.8" cy="310.2" rx="4.3" ry="6.2" transform="rotate(8 911.8 310.2)" fill="#fff" stroke="#0c0c0c" stroke-width="2" stroke-dasharray="1.6 1.4"/>
<ellipse cx="912" cy="310.3" rx="2.2" ry="3.6" transform="rotate(8 912 310.3)" fill="#fff" stroke="#0c0c0c" stroke-width="1.1" />
<path d="M907.8 318.6 L907.8 367.2" fill="none" stroke="#0c0c0c" stroke-width="1.35" />
<circle cx="907.8" cy="376.0" r="8.1" fill="#fff" stroke="#0c0c0c" stroke-width="1.4"/>
<text x="907.8" y="379.35" text-anchor="middle" font-size="9.3" textLength="11.8" lengthAdjust="spacingAndGlyphs" stroke="#0c0c0c" stroke-width="0.4" class="t">21</text>
<ellipse cx="927.4" cy="316" rx="5.8" ry="8" transform="rotate(8 927.4 316)" fill="#fff" stroke="#0c0c0c" stroke-width="1.4" />
<ellipse cx="927.6" cy="316.1" rx="2.5" ry="4" transform="rotate(8 927.6 316.1)" fill="#fff" stroke="#0c0c0c" stroke-width="1.2" />
<path d="M927.4 324.4 L927.4 367.2" fill="none" stroke="#0c0c0c" stroke-width="1.35" />
<circle cx="927.4" cy="376.0" r="8.1" fill="#fff" stroke="#0c0c0c" stroke-width="1.4"/>
<text x="927.4" y="379.35" text-anchor="middle" font-size="9.3" textLength="11.8" lengthAdjust="spacingAndGlyphs" stroke="#0c0c0c" stroke-width="0.4" class="t">22</text>
<path d="M946 314.6 L956 317.2 L955.2 324.8 L945.2 321.8 Z" fill="#fff" stroke="#0c0c0c" stroke-width="1.2" />
<ellipse cx="945.6" cy="318.2" rx="1.4" ry="3.6" transform="rotate(8 945.6 318.2)" fill="#fff" stroke="#0c0c0c" stroke-width="1.1" />
<path d="M955.4 315.6 L962 317.4 L961.2 326.8 L954.4 325 Z" fill="#fff" stroke="#0c0c0c" stroke-width="1.2" />
<ellipse cx="961.8" cy="322" rx="2.4" ry="4.8" transform="rotate(8 961.8 322)" fill="#fff" stroke="#0c0c0c" stroke-width="1.3" />
<path d="M956 321 L961 322.4" fill="none" stroke="#0c0c0c" stroke-width="1.8" />
<path d="M957.4 326.4 L957.4 367.2" fill="none" stroke="#0c0c0c" stroke-width="1.35" />
<circle cx="957.4" cy="376.0" r="8.1" fill="#fff" stroke="#0c0c0c" stroke-width="1.4"/>
<text x="957.4" y="379.35" text-anchor="middle" font-size="9.3" textLength="11.8" lengthAdjust="spacingAndGlyphs" stroke="#0c0c0c" stroke-width="0.4" class="t">23</text>
<path d="M691 460.1 C691.89 457.87 694.58 451.19 696.37 446.73 C698.16 442.28 699.94 437.82 701.73 433.37 C703.52 428.92 705.46 424.26 707.1 420 C708.75 415.74 710.10 411.87 711.6 407.8 C713.10 403.73 714.60 399.67 716.1 395.6 C717.60 391.53 719.12 387.40 720.6 383.4 C722.08 379.40 723.33 375.50 725 371.6 C726.67 367.70 728.60 363.50 730.6 360 C732.60 356.50 734.50 353.37 737 350.6 C739.50 347.83 743.10 345.07 745.6 343.4 C748.10 341.73 749.87 341.28 752 340.6 C754.13 339.92 756.00 339.40 758.4 339.3 C760.80 339.20 763.53 339.28 766.4 340 C769.27 340.72 772.83 341.90 775.6 343.6 C778.37 345.30 781.00 347.57 783 350.2 C785.00 352.83 786.43 356.25 787.6 359.4 C788.77 362.55 789.53 365.72 790 369.1 C790.47 372.48 790.47 376.22 790.4 379.7 C790.33 383.18 790.30 386.92 789.6 390 C788.90 393.08 787.76 394.45 786.2 398.2 C784.64 401.95 782.21 407.75 780.22 412.52 C778.23 417.29 776.23 422.07 774.24 426.84 C772.25 431.61 770.25 436.39 768.26 441.16 C766.27 445.93 764.27 450.71 762.28 455.48 C760.29 460.25 757.30 467.41 756.3 469.8" fill="none" stroke="#0c0c0c" stroke-width="1.3" />
<path d="M707.3 463.09 C708.20 460.76 710.92 453.76 712.73 449.09 C714.54 444.42 716.36 439.76 718.17 435.09 C719.98 430.42 721.89 425.50 723.6 421.09 C725.31 416.68 726.82 412.78 728.43 408.63 C730.04 404.48 731.84 399.52 733.26 396.18 C734.68 392.84 735.74 391.13 736.98 388.61 C738.22 386.09 739.01 384.43 740.69 381.03 C742.38 377.63 744.81 372.16 747.09 368.21 C749.37 364.25 751.91 360.26 754.39 357.3 C756.87 354.34 759.45 352.31 761.95 350.46 C764.45 348.61 767.46 347.05 769.39 346.22 C771.32 345.39 772.30 344.54 773.56 345.5 C774.82 346.46 775.92 349.39 776.95 352.01 C777.98 354.63 779.12 358.46 779.75 361.23 C780.38 364.00 780.56 367.41 780.72 368.65 L784.48 368.15 C784.31 366.85 784.16 363.30 783.45 360.37 C782.75 357.44 781.59 353.50 780.25 350.59 C778.91 347.68 777.45 344.30 775.44 342.9 C773.43 341.50 770.94 341.64 768.21 342.18 C765.48 342.72 762.08 344.25 759.05 346.14 C756.02 348.03 752.87 350.32 750.01 353.5 C747.15 356.68 744.36 361.05 741.91 365.19 C739.46 369.33 737.04 374.88 735.31 378.37 C733.58 381.86 732.78 383.53 731.52 386.1 C730.26 388.68 729.18 390.44 727.74 393.82 C726.30 397.20 724.49 402.19 722.87 406.37 C721.25 410.55 719.72 414.49 718.0 418.91 C716.28 423.33 714.38 428.24 712.57 432.91 C710.76 437.58 708.94 442.24 707.13 446.91 C705.32 451.58 702.61 458.58 701.7 460.91 Z" fill="#0c0c0c" stroke="#0c0c0c" stroke-width="0.4" />
<path d="M780.7 368.5 C780.58 369.97 780.70 373.72 780 377.3 C779.30 380.88 777.63 386.55 776.5 390 C775.37 393.45 774.73 394.27 773.2 398 C771.67 401.73 769.29 407.57 767.34 412.36 C765.39 417.15 763.43 421.93 761.48 426.72 C759.53 431.51 757.57 436.29 755.62 441.08 C753.67 445.87 751.71 450.65 749.76 455.44 C747.81 460.23 744.88 467.41 743.9 469.8" fill="none" stroke="#0c0c0c" stroke-width="1.2" />
<path d="M784.8 368.5 C784.85 369.97 785.33 373.72 785.1 377.3 C784.87 380.88 784.23 386.55 783.4 390 C782.57 393.45 781.65 394.27 780.1 398 C778.55 401.73 776.10 407.57 774.1 412.36 C772.10 417.15 770.10 421.93 768.1 426.72 C766.10 431.51 764.10 436.29 762.1 441.08 C760.10 445.87 758.10 450.65 756.1 455.44 C754.10 460.23 751.10 467.41 750.1 469.8" fill="none" stroke="#0c0c0c" stroke-width="1.2" />
<path d="M780.7 368.6 L784.8 368.6" fill="none" stroke="#0c0c0c" stroke-width="1.0" />
<path d="M766 348.6 C767.00 348.90 770.10 349.27 772 350.4 C773.90 351.53 776.50 354.57 777.4 355.4" fill="none" stroke="#0c0c0c" stroke-width="0.9" />
<path d="M790.6 376 L810.5 376" fill="none" stroke="#0c0c0c" stroke-width="1.35" />
<circle cx="818.8" cy="376.79999999999995" r="8.1" fill="#fff" stroke="#0c0c0c" stroke-width="1.4"/>
<text x="818.8" y="380.15" text-anchor="middle" font-size="9.3" textLength="11.8" lengthAdjust="spacingAndGlyphs" stroke="#0c0c0c" stroke-width="0.4" class="t">43</text>
<path d="M63.99 279.72 L59.39 278.708 A5.8 8 10 0 0 56.61 294.468 L61.21 295.48 Z" fill="#fff" stroke="#0c0c0c" stroke-width="1.25" />
<ellipse cx="62.6" cy="287.6" rx="5.8" ry="8" transform="rotate(10 62.6 287.6)" fill="#fff" stroke="#0c0c0c" stroke-width="1.3" />
<ellipse cx="62.800000000000004" cy="287.6" rx="3.944" ry="5.6" transform="rotate(10 62.800000000000004 287.6)" fill="#fff" stroke="#0c0c0c" stroke-width="1.2" />
<ellipse cx="63.0" cy="287.6" rx="2.088" ry="3.36" transform="rotate(10 63.0 287.6)" fill="#fff" stroke="#0c0c0c" stroke-width="1.1" />
<path d="M65.86 283.66 A3.4 5.2 10 0 1 60.94 291.94" fill="none" stroke="#0c0c0c" stroke-width="1.6" />
<path d="M30.7 239.8 L30.7 264.2 L55.6 287" fill="none" stroke="#0c0c0c" stroke-width="1.35" />
<circle cx="30.6" cy="231.20000000000002" r="8.1" fill="#fff" stroke="#0c0c0c" stroke-width="1.4"/>
<text x="30.6" y="234.55" text-anchor="middle" font-size="9.3" textLength="11.8" lengthAdjust="spacingAndGlyphs" stroke="#0c0c0c" stroke-width="0.4" class="t">24</text>
<ellipse cx="63.8" cy="272" rx="0.9" ry="1.8" transform="rotate(10 63.8 272)" fill="#fff" stroke="#0c0c0c" stroke-width="1.5" />
<path d="M60 239.8 L60 262 L62.8 269.2" fill="none" stroke="#0c0c0c" stroke-width="1.35" />
<circle cx="59.9" cy="231.20000000000002" r="8.1" fill="#fff" stroke="#0c0c0c" stroke-width="1.4"/>
<text x="59.9" y="234.55" text-anchor="middle" font-size="9.3" textLength="11.8" lengthAdjust="spacingAndGlyphs" stroke="#0c0c0c" stroke-width="0.4" class="t">25</text>
<ellipse cx="99.8" cy="274.8" rx="1.7" ry="2.0" transform="rotate(0 99.8 274.8)" fill="#fff" stroke="#0c0c0c" stroke-width="2.2" />
<path d="M89.3 239.8 L89.3 263.2 L98 272.4" fill="none" stroke="#0c0c0c" stroke-width="1.35" />
<circle cx="89.1" cy="231.20000000000002" r="8.1" fill="#fff" stroke="#0c0c0c" stroke-width="1.4"/>
<text x="89.1" y="234.55" text-anchor="middle" font-size="9.3" textLength="11.8" lengthAdjust="spacingAndGlyphs" stroke="#0c0c0c" stroke-width="0.4" class="t">26</text>
<path d="M110.6 256.6 L110.2 262 L108.2 267.4 M110.2 262 L112 266.6" fill="none" stroke="#0c0c0c" stroke-width="1.0" />
<ellipse cx="110.7" cy="255.6" rx="0.8" ry="1.1" transform="rotate(0 110.7 255.6)" fill="none" stroke="#0c0c0c" stroke-width="0.9" />
<path d="M119.1 239.8 L119.1 257.9 L113.4 261.2" fill="none" stroke="#0c0c0c" stroke-width="1.35" />
<circle cx="118.8" cy="231.20000000000002" r="8.1" fill="#fff" stroke="#0c0c0c" stroke-width="1.4"/>
<text x="118.8" y="234.55" text-anchor="middle" font-size="9.3" textLength="11.8" lengthAdjust="spacingAndGlyphs" stroke="#0c0c0c" stroke-width="0.4" class="t">27</text>
<ellipse cx="74.6" cy="291.4" rx="4.2" ry="7.4" transform="rotate(10 74.6 291.4)" fill="#fff" stroke="#0c0c0c" stroke-width="1.3" />
<path d="M74.56 297.88 A4.2 7.4 10 1 1 76.22 284.6" fill="none" stroke="#0c0c0c" stroke-width="1.0" />
<path d="M83.37 288.29 L75.97 286.44 A3.6 5.6 10 0 0 74.03 297.46 L81.43 299.31 Z" fill="#fff" stroke="#0c0c0c" stroke-width="1.25" />
<ellipse cx="82.4" cy="293.8" rx="3.6" ry="5.6" transform="rotate(10 82.4 293.8)" fill="#fff" stroke="#0c0c0c" stroke-width="1.25" />
<path d="M61.5 317.6 L66.3 317.6 L75.7 299.4" fill="none" stroke="#0c0c0c" stroke-width="1.35" />
<circle cx="52.6" cy="317.4" r="8.1" fill="#fff" stroke="#0c0c0c" stroke-width="1.4"/>
<text x="52.6" y="320.75" text-anchor="middle" font-size="9.3" textLength="11.8" lengthAdjust="spacingAndGlyphs" stroke="#0c0c0c" stroke-width="0.4" class="t">31</text>
<path d="M84 307 L137 307 L135.4 316.8 L84 317.4 A3 5.2 0 0 1 84 307 Z" fill="#fff" stroke="#0c0c0c" stroke-width="1.3" />
<ellipse cx="86.6" cy="312.2" rx="1.1" ry="2" transform="rotate(10 86.6 312.2)" fill="none" stroke="#0c0c0c" stroke-width="1.0" />
<path d="M96.6 291.6 L147 307.2 A5 6.2 10 0 1 142.6 318.6 L92.8 302 A5 5.6 10 0 1 96.6 291.6 Z" fill="#fff" stroke="#0c0c0c" stroke-width="1.3" />
<ellipse cx="145.4" cy="312.8" rx="4.6" ry="6" transform="rotate(10 145.4 312.8)" fill="#fff" stroke="#0c0c0c" stroke-width="1.2" />
<path d="M146.68 317.1 A3.2 4.6 10 1 1 148.07 309.25" fill="none" stroke="#0c0c0c" stroke-width="1.8" />
<path d="M94 300.6 L138 314.6" fill="none" stroke="#0c0c0c" stroke-width="1.0" />
<path d="M93.4 302.6 L108 307" fill="none" stroke="#0c0c0c" stroke-width="2.0" />
<path d="M141.21 305.32 A4.6 6 10 0 1 139.16 316.96" fill="none" stroke="#0c0c0c" stroke-width="1.6" />
<path d="M103.2 293.6 L106.8 276.4 A3.1 3.1 0 0 1 113 277.2 L109.4 295.6 Z" fill="#fff" stroke="#0c0c0c" stroke-width="1.3" />
<ellipse cx="110.2" cy="278" rx="0.9" ry="1.4" transform="rotate(10 110.2 278)" fill="none" stroke="#0c0c0c" stroke-width="0.9" />
<path d="M59.7 343.5 L75.9 343.5 L104.6 317.6" fill="none" stroke="#0c0c0c" stroke-width="1.35" />
<circle cx="53" cy="343.0" r="8.1" fill="#fff" stroke="#0c0c0c" stroke-width="1.4"/>
<text x="53" y="346.35" text-anchor="middle" font-size="9.3" textLength="11.8" lengthAdjust="spacingAndGlyphs" stroke="#0c0c0c" stroke-width="0.4" class="t">32</text>
<ellipse cx="125" cy="279.8" rx="2.6" ry="3.4" transform="rotate(10 125 279.8)" fill="#fff" stroke="#0c0c0c" stroke-width="1.2" />
<ellipse cx="125.2" cy="279.8" rx="1" ry="1.5" transform="rotate(10 125.2 279.8)" fill="none" stroke="#0c0c0c" stroke-width="0.8" />
<ellipse cx="131.8" cy="281.4" rx="2.6" ry="3.4" transform="rotate(10 131.8 281.4)" fill="#fff" stroke="#0c0c0c" stroke-width="1.2" />
<ellipse cx="132" cy="281.5" rx="1" ry="1.5" transform="rotate(10 132 281.5)" fill="none" stroke="#0c0c0c" stroke-width="0.8" />
<path d="M134 279 L140.8 281 L140 286.2 L133.4 284.4 Z" fill="#fff" stroke="#0c0c0c" stroke-width="1.35" />
<path d="M140.6 281.9 L189.6 297.3 L188.9 300.4 L140 285.1 Z" fill="#fff" stroke="#0c0c0c" stroke-width="1.35" />
<path d="M140.4 284.4 L189 299.6" fill="none" stroke="#0c0c0c" stroke-width="1.4" />
<path d="M191 300.2 L208 305" fill="none" stroke="#0c0c0c" stroke-width="0.9" stroke-dasharray="6 2 1.5 2"/>
<path d="M149.8 239.8 L149.8 284.6" fill="none" stroke="#0c0c0c" stroke-width="1.35" />
<circle cx="149" cy="231.20000000000002" r="8.1" fill="#fff" stroke="#0c0c0c" stroke-width="1.4"/>
<text x="149" y="234.55" text-anchor="middle" font-size="9.3" textLength="11.8" lengthAdjust="spacingAndGlyphs" stroke="#0c0c0c" stroke-width="0.4" class="t">28</text>
<path d="M159.4 274.8 L172.4 278.2 L171.4 283 L158.6 279.4 Z" fill="#fff" stroke="#0c0c0c" stroke-width="1.35" />
<ellipse cx="159" cy="277.2" rx="0.9" ry="2.4" transform="rotate(10 159 277.2)" fill="#fff" stroke="#0c0c0c" stroke-width="1.0" />
<ellipse cx="172.6" cy="280.6" rx="2.2" ry="3.7" transform="rotate(10 172.6 280.6)" fill="#fff" stroke="#0c0c0c" stroke-width="1.2" />
<path d="M178.6 239.8 L178.6 267 L165.6 276" fill="none" stroke="#0c0c0c" stroke-width="1.35" />
<circle cx="178.3" cy="231.20000000000002" r="8.1" fill="#fff" stroke="#0c0c0c" stroke-width="1.4"/>
<text x="178.3" y="234.55" text-anchor="middle" font-size="9.3" textLength="11.8" lengthAdjust="spacingAndGlyphs" stroke="#0c0c0c" stroke-width="0.4" class="t">29</text>
<path d="M207.2 303.0 L210.6 301.0 L215.4 302.2 L216.2 307.0 L212.79999999999998 310.0 L207.79999999999998 308.4 Z" fill="#fff" stroke="#0c0c0c" stroke-width="1.4" />
<ellipse cx="212.2" cy="305.59999999999997" rx="2.6" ry="3.5" transform="rotate(10 212.2 305.59999999999997)" fill="#fff" stroke="#0c0c0c" stroke-width="1.5" />
<ellipse cx="212.4" cy="305.7" rx="1.0" ry="1.6" transform="rotate(10 212.4 305.7)" fill="#fff" stroke="#0c0c0c" stroke-width="0.9" />
<path d="M207.2 303.0 L207.79999999999998 308.4" fill="none" stroke="#0c0c0c" stroke-width="1.8" />
<path d="M221.6 307.20000000000005 L225.0 305.20000000000005 L229.8 306.40000000000003 L230.6 311.20000000000005 L227.2 314.20000000000005 L222.2 312.6 Z" fill="#fff" stroke="#0c0c0c" stroke-width="1.4" />
<ellipse cx="226.6" cy="309.8" rx="2.6" ry="3.5" transform="rotate(10 226.6 309.8)" fill="#fff" stroke="#0c0c0c" stroke-width="1.5" />
<ellipse cx="226.8" cy="309.90000000000003" rx="1.0" ry="1.6" transform="rotate(10 226.8 309.90000000000003)" fill="#fff" stroke="#0c0c0c" stroke-width="0.9" />
<path d="M221.6 307.20000000000005 L222.2 312.6" fill="none" stroke="#0c0c0c" stroke-width="1.8" />
<path d="M231 311 L236 312.4" fill="none" stroke="#0c0c0c" stroke-width="0.9" />
<path d="M208 239.8 L208 300.6" fill="none" stroke="#0c0c0c" stroke-width="1.35" />
<path d="M208 279 L226.9 285.3 L226.9 304.4" fill="none" stroke="#0c0c0c" stroke-width="1.35" />
<circle cx="207.9" cy="231.20000000000002" r="8.1" fill="#fff" stroke="#0c0c0c" stroke-width="1.4"/>
<text x="207.9" y="234.55" text-anchor="middle" font-size="9.3" textLength="11.8" lengthAdjust="spacingAndGlyphs" stroke="#0c0c0c" stroke-width="0.4" class="t">30</text>
<ellipse cx="188.8" cy="309.6" rx="0.9" ry="1.8" transform="rotate(10 188.8 309.6)" fill="#fff" stroke="#0c0c0c" stroke-width="1.5" />
<path d="M191.6 310 L217.7 325.6 L217.7 341.4" fill="none" stroke="#0c0c0c" stroke-width="1.35" />
<circle cx="218.2" cy="350.0" r="8.1" fill="#fff" stroke="#0c0c0c" stroke-width="1.4"/>
<text x="218.2" y="353.35" text-anchor="middle" font-size="9.3" textLength="11.8" lengthAdjust="spacingAndGlyphs" stroke="#0c0c0c" stroke-width="0.4" class="t">25</text>
<path d="M164.97 313.09 L157.57 311.23999999999995 A3.6 5.6 10 0 0 155.63 322.26 L163.03 324.11 Z" fill="#fff" stroke="#0c0c0c" stroke-width="1.25" />
<ellipse cx="164" cy="318.6" rx="3.6" ry="5.6" transform="rotate(10 164 318.6)" fill="#fff" stroke="#0c0c0c" stroke-width="1.25" />
<ellipse cx="168.6" cy="320" rx="4.4" ry="7.4" transform="rotate(10 168.6 320)" fill="#fff" stroke="#0c0c0c" stroke-width="1.3" />
<ellipse cx="169.4" cy="320.2" rx="4.4" ry="7.4" transform="rotate(10 169.4 320.2)" fill="#fff" stroke="#0c0c0c" stroke-width="1.2" />
<ellipse cx="169.6" cy="320.3" rx="2.6" ry="4.8" transform="rotate(10 169.6 320.3)" fill="#fff" stroke="#0c0c0c" stroke-width="1.1" />
<path d="M188.02 317.72 L183.62 316.752 A5.8 8.2 10 0 0 180.78 332.912 L185.18 333.88 Z" fill="#fff" stroke="#0c0c0c" stroke-width="1.25" />
<ellipse cx="186.6" cy="325.8" rx="5.8" ry="8.2" transform="rotate(10 186.6 325.8)" fill="#fff" stroke="#0c0c0c" stroke-width="1.3" />
<ellipse cx="186.79999999999998" cy="325.8" rx="3.944" ry="5.739999999999999" transform="rotate(10 186.79999999999998 325.8)" fill="#fff" stroke="#0c0c0c" stroke-width="1.2" />
<ellipse cx="187.0" cy="325.8" rx="2.088" ry="3.4439999999999995" transform="rotate(10 187.0 325.8)" fill="#fff" stroke="#0c0c0c" stroke-width="1.1" />
<path d="M189.86 321.86 A3.4 5.2 10 0 1 184.94 330.14" fill="none" stroke="#0c0c0c" stroke-width="1.6" />
<path d="M189.3 333.6 L189.3 341.4" fill="none" stroke="#0c0c0c" stroke-width="1.35" />
<circle cx="189" cy="350.0" r="8.1" fill="#fff" stroke="#0c0c0c" stroke-width="1.4"/>
<text x="189" y="353.35" text-anchor="middle" font-size="9.3" textLength="11.8" lengthAdjust="spacingAndGlyphs" stroke="#0c0c0c" stroke-width="0.4" class="t">24</text>
<path d="M91.2 351.3 L113.4 358 L112.7 363.3 L90.4 356.9 Z" fill="#fff" stroke="#0c0c0c" stroke-width="1.35" />
<path d="M100.6 356.6 L111.4 360" fill="none" stroke="#0c0c0c" stroke-width="2.6" stroke-dasharray="1.3 1" stroke-linecap="butt"/>
<path d="M91 356.2 L112.4 362.4" fill="none" stroke="#0c0c0c" stroke-width="1.6" />
<ellipse cx="113.4" cy="360.7" rx="1.2" ry="2.6" transform="rotate(16 113.4 360.7)" fill="#fff" stroke="#0c0c0c" stroke-width="1.1" />
<path d="M86.4 350.4 Q88.6 348 91.2 350 L91.8 356.8 Q89.6 358.6 87 357 Q85 353.6 86.4 350.4 Z" fill="#fff" stroke="#0c0c0c" stroke-width="1.5" />
<path d="M89 349.6 L89.6 357.6" fill="none" stroke="#0c0c0c" stroke-width="0.9" />
<path d="M59.7 378.4 L69.4 378.4 L94.2 359.4" fill="none" stroke="#0c0c0c" stroke-width="1.35" />
<circle cx="53" cy="379.0" r="8.1" fill="#fff" stroke="#0c0c0c" stroke-width="1.4"/>
<text x="53" y="382.35" text-anchor="middle" font-size="9.3" textLength="11.8" lengthAdjust="spacingAndGlyphs" stroke="#0c0c0c" stroke-width="0.4" class="t">31</text>
<path d="M61 420.6 L73 420.6 L107.6 363" fill="none" stroke="#0c0c0c" stroke-width="1.35" />
<path d="M108 352.8 L156.6 321.8" fill="none" stroke="#0c0c0c" stroke-width="1.35" />
<circle cx="53" cy="421.4" r="8.1" fill="#fff" stroke="#0c0c0c" stroke-width="1.4"/>
<text x="53" y="424.75" text-anchor="middle" font-size="9.3" textLength="11.8" lengthAdjust="spacingAndGlyphs" stroke="#0c0c0c" stroke-width="0.4" class="t">33</text>
<path d="M128.22 357.12 L124.62 356.32800000000003 A6 8.2 10 0 0 121.78 372.488 L125.38 373.28 Z" fill="#fff" stroke="#0c0c0c" stroke-width="1.25" />
<ellipse cx="126.8" cy="365.2" rx="6" ry="8.2" transform="rotate(10 126.8 365.2)" fill="#fff" stroke="#0c0c0c" stroke-width="1.3" />
<ellipse cx="127.0" cy="365.2" rx="4.08" ry="5.739999999999999" transform="rotate(10 127.0 365.2)" fill="#fff" stroke="#0c0c0c" stroke-width="1.9" stroke-dasharray="1.6 1.3"/>
<ellipse cx="127.2" cy="365.2" rx="2.16" ry="3.4439999999999995" transform="rotate(10 127.2 365.2)" fill="#fff" stroke="#0c0c0c" stroke-width="1.1" />
<path d="M121.7 373.4 L113.6 383.3 L113.6 444.2" fill="none" stroke="#0c0c0c" stroke-width="1.35" />
<circle cx="113.4" cy="453.0" r="8.1" fill="#fff" stroke="#0c0c0c" stroke-width="1.4"/>
<text x="113.4" y="456.35" text-anchor="middle" font-size="9.3" textLength="11.8" lengthAdjust="spacingAndGlyphs" stroke="#0c0c0c" stroke-width="0.4" class="t">35</text>
<ellipse cx="145.2" cy="371.4" rx="5.4" ry="7.3" transform="rotate(10 145.2 371.4)" fill="#fff" stroke="#0c0c0c" stroke-width="1.2" />
<ellipse cx="145.4" cy="371.5" rx="4" ry="5.8" transform="rotate(10 145.4 371.5)" fill="#fff" stroke="#0c0c0c" stroke-width="1.0" />
<path d="M142.8 378.8 L142.8 444.2" fill="none" stroke="#0c0c0c" stroke-width="1.35" />
<circle cx="143.4" cy="453.0" r="8.1" fill="#fff" stroke="#0c0c0c" stroke-width="1.4"/>
<text x="143.4" y="456.35" text-anchor="middle" font-size="9.3" textLength="11.8" lengthAdjust="spacingAndGlyphs" stroke="#0c0c0c" stroke-width="0.4" class="t">36</text>
<ellipse cx="166.2" cy="377" rx="13.2" ry="22.2" transform="rotate(10 166.2 377)" fill="#fff" stroke="#0c0c0c" stroke-width="2.6" />
<ellipse cx="168.6" cy="377.6" rx="12.2" ry="21" transform="rotate(10 168.6 377.6)" fill="#fff" stroke="#0c0c0c" stroke-width="1.1" />
<path d="M173.92 397.36 A12.4 21.2 10 1 1 178.64 359.32" fill="none" stroke="#0c0c0c" stroke-width="1.1" />
<ellipse cx="176.8" cy="379.4" rx="13.4" ry="22.3" transform="rotate(10 176.8 379.4)" fill="#fff" stroke="#0c0c0c" stroke-width="1.4" />
<ellipse cx="176.6" cy="379.4" rx="11.4" ry="19.6" transform="rotate(10 176.6 379.4)" fill="#fff" stroke="#0c0c0c" stroke-width="1.1" />
<path d="M175.39 395.87 A9.6 17.4 10 1 1 179.62 362.61" fill="none" stroke="#0c0c0c" stroke-width="1.6" />
<path d="M178 361.4 L176.4 371 M181.4 362.2 L179.4 371.4" fill="none" stroke="#0c0c0c" stroke-width="1.1" />
<path d="M166.4 380.4 L171.6 381.6 M166.4 384 L171.8 384.6" fill="none" stroke="#0c0c0c" stroke-width="1.1" />
<path d="M180 386.4 L183 394.6 M177.4 387 L179.4 396.4" fill="none" stroke="#0c0c0c" stroke-width="1.1" />
<ellipse cx="176.8" cy="378.8" rx="5.2" ry="7.8" transform="rotate(10 176.8 378.8)" fill="#fff" stroke="#0c0c0c" stroke-width="1.5" />
<ellipse cx="177" cy="378.8" rx="3.4" ry="5.4" transform="rotate(10 177 378.8)" fill="#fff" stroke="#0c0c0c" stroke-width="1.8" />
<ellipse cx="177.2" cy="378.9" rx="1.8" ry="3.4" transform="rotate(10 177.2 378.9)" fill="#fff" stroke="#0c0c0c" stroke-width="0.9" />
<path d="M172.2 401.8 L172.2 444.2" fill="none" stroke="#0c0c0c" stroke-width="1.35" />
<circle cx="172" cy="453.0" r="8.1" fill="#fff" stroke="#0c0c0c" stroke-width="1.4"/>
<text x="172" y="456.35" text-anchor="middle" font-size="9.3" textLength="11.8" lengthAdjust="spacingAndGlyphs" stroke="#0c0c0c" stroke-width="0.4" class="t">37</text>
<path d="M203.2 383.4 L200 383 A5.6 6.6 10 0 0 198.8 395.8 L202.8 396.8 Z" fill="#fff" stroke="#0c0c0c" stroke-width="1.25" />
<ellipse cx="204.6" cy="390.2" rx="5.6" ry="6.7" transform="rotate(10 204.6 390.2)" fill="#fff" stroke="#0c0c0c" stroke-width="1.3" />
<ellipse cx="205.2" cy="390.4" rx="2" ry="2.9" transform="rotate(10 205.2 390.4)" fill="#fff" stroke="#0c0c0c" stroke-width="1.8" />
<path d="M202.7 397.6 L202.7 444.2" fill="none" stroke="#0c0c0c" stroke-width="1.35" />
<circle cx="203" cy="453.0" r="8.1" fill="#fff" stroke="#0c0c0c" stroke-width="1.4"/>
<text x="203" y="456.35" text-anchor="middle" font-size="9.3" textLength="11.8" lengthAdjust="spacingAndGlyphs" stroke="#0c0c0c" stroke-width="0.4" class="t">38</text>
<ellipse cx="222.1" cy="394.7" rx="5.2" ry="7.4" transform="rotate(10 222.1 394.7)" fill="#fff" stroke="#0c0c0c" stroke-width="1.2" />
<ellipse cx="222.3" cy="394.8" rx="3.9" ry="5.9" transform="rotate(10 222.3 394.8)" fill="#fff" stroke="#0c0c0c" stroke-width="1.0" />
<path d="M223.2 402.6 L231.3 422.3 L232 444.2" fill="none" stroke="#0c0c0c" stroke-width="1.35" />
<circle cx="232" cy="453.0" r="8.1" fill="#fff" stroke="#0c0c0c" stroke-width="1.4"/>
<text x="232" y="456.35" text-anchor="middle" font-size="9.3" textLength="11.8" lengthAdjust="spacingAndGlyphs" stroke="#0c0c0c" stroke-width="0.4" class="t">36</text>
<path d="M245.55 392.52 L240.95000000000002 391.508 A5.6 7.8 10 0 0 238.25 406.868 L242.85 407.88 Z" fill="#fff" stroke="#0c0c0c" stroke-width="1.25" />
<ellipse cx="244.2" cy="400.2" rx="5.6" ry="7.8" transform="rotate(10 244.2 400.2)" fill="#fff" stroke="#0c0c0c" stroke-width="1.3" />
<ellipse cx="244.39999999999998" cy="400.2" rx="3.808" ry="5.46" transform="rotate(10 244.39999999999998 400.2)" fill="#fff" stroke="#0c0c0c" stroke-width="1.9" stroke-dasharray="1.6 1.3"/>
<ellipse cx="244.6" cy="400.2" rx="2.016" ry="3.276" transform="rotate(10 244.6 400.2)" fill="#fff" stroke="#0c0c0c" stroke-width="1.1" />
<path d="M246.8 407.6 L260.6 426 L260.6 444.2" fill="none" stroke="#0c0c0c" stroke-width="1.35" />
<circle cx="260.6" cy="453.0" r="8.1" fill="#fff" stroke="#0c0c0c" stroke-width="1.4"/>
<text x="260.6" y="456.35" text-anchor="middle" font-size="9.3" textLength="11.8" lengthAdjust="spacingAndGlyphs" stroke="#0c0c0c" stroke-width="0.4" class="t">35</text>
<path d="M257.6 397.8 L255.2 397.6 A4.4 5.8 10 0 0 254.4 408.6 L257 409.6 Z" fill="#fff" stroke="#0c0c0c" stroke-width="1.2" />
<ellipse cx="259.4" cy="403.8" rx="4.6" ry="6" transform="rotate(10 259.4 403.8)" fill="#fff" stroke="#0c0c0c" stroke-width="1.5" />
<ellipse cx="259.8" cy="403.9" rx="2.2" ry="3.4" transform="rotate(10 259.8 403.9)" fill="#fff" stroke="#0c0c0c" stroke-width="1.3" />
<path d="M260 375 L260 398.2" fill="none" stroke="#0c0c0c" stroke-width="1.35" />
<circle cx="260" cy="367.2" r="8.1" fill="#fff" stroke="#0c0c0c" stroke-width="1.4"/>
<text x="260" y="370.55" text-anchor="middle" font-size="9.3" textLength="11.8" lengthAdjust="spacingAndGlyphs" stroke="#0c0c0c" stroke-width="0.4" class="t">39</text>
<ellipse cx="275.8" cy="409.2" rx="4.9" ry="6.5" transform="rotate(10 275.8 409.2)" fill="#fff" stroke="#0c0c0c" stroke-width="1.4" />
<ellipse cx="276" cy="409.3" rx="2.1" ry="3.4" transform="rotate(10 276 409.3)" fill="#fff" stroke="#0c0c0c" stroke-width="1.2" />
<path d="M289 375 L289 392.7 L279 403" fill="none" stroke="#0c0c0c" stroke-width="1.35" />
<circle cx="289" cy="367.2" r="8.1" fill="#fff" stroke="#0c0c0c" stroke-width="1.4"/>
<text x="289" y="370.55" text-anchor="middle" font-size="9.3" textLength="11.8" lengthAdjust="spacingAndGlyphs" stroke="#0c0c0c" stroke-width="0.4" class="t">40</text>
<path d="M285.02 411.52000000000004 L288.25 409.62 L292.81 410.76 L293.57 415.32 L290.34 418.17 L285.59 416.65000000000003 Z" fill="#fff" stroke="#0c0c0c" stroke-width="1.4" />
<ellipse cx="289.77" cy="413.99" rx="2.4699999999999998" ry="3.3249999999999997" transform="rotate(10 289.77 413.99)" fill="#fff" stroke="#0c0c0c" stroke-width="1.5" />
<ellipse cx="289.96" cy="414.08500000000004" rx="0.95" ry="1.52" transform="rotate(10 289.96 414.08500000000004)" fill="#fff" stroke="#0c0c0c" stroke-width="0.9" />
<path d="M285.02 411.52000000000004 L285.59 416.65000000000003" fill="none" stroke="#0c0c0c" stroke-width="1.8" />
<path d="M320 375 L320 394.2 L294 410.4" fill="none" stroke="#0c0c0c" stroke-width="1.35" />
<circle cx="319.6" cy="367.2" r="8.1" fill="#fff" stroke="#0c0c0c" stroke-width="1.4"/>
<text x="319.6" y="370.55" text-anchor="middle" font-size="9.3" textLength="11.8" lengthAdjust="spacingAndGlyphs" stroke="#0c0c0c" stroke-width="0.4" class="t">41</text>
<path d="M95.3 459.2 L102.4 472 L182 472 L186.5 481.8 L191 472 L271.7 472 L279.1 458.2" fill="none" stroke="#0c0c0c" stroke-width="1.6" />
<circle cx="186.5" cy="491.4" r="8.1" fill="#fff" stroke="#0c0c0c" stroke-width="1.4"/>
<text x="186.5" y="494.75" text-anchor="middle" font-size="9.3" textLength="11.8" lengthAdjust="spacingAndGlyphs" stroke="#0c0c0c" stroke-width="0.4" class="t">34</text>
</g>
</svg></body></html>
